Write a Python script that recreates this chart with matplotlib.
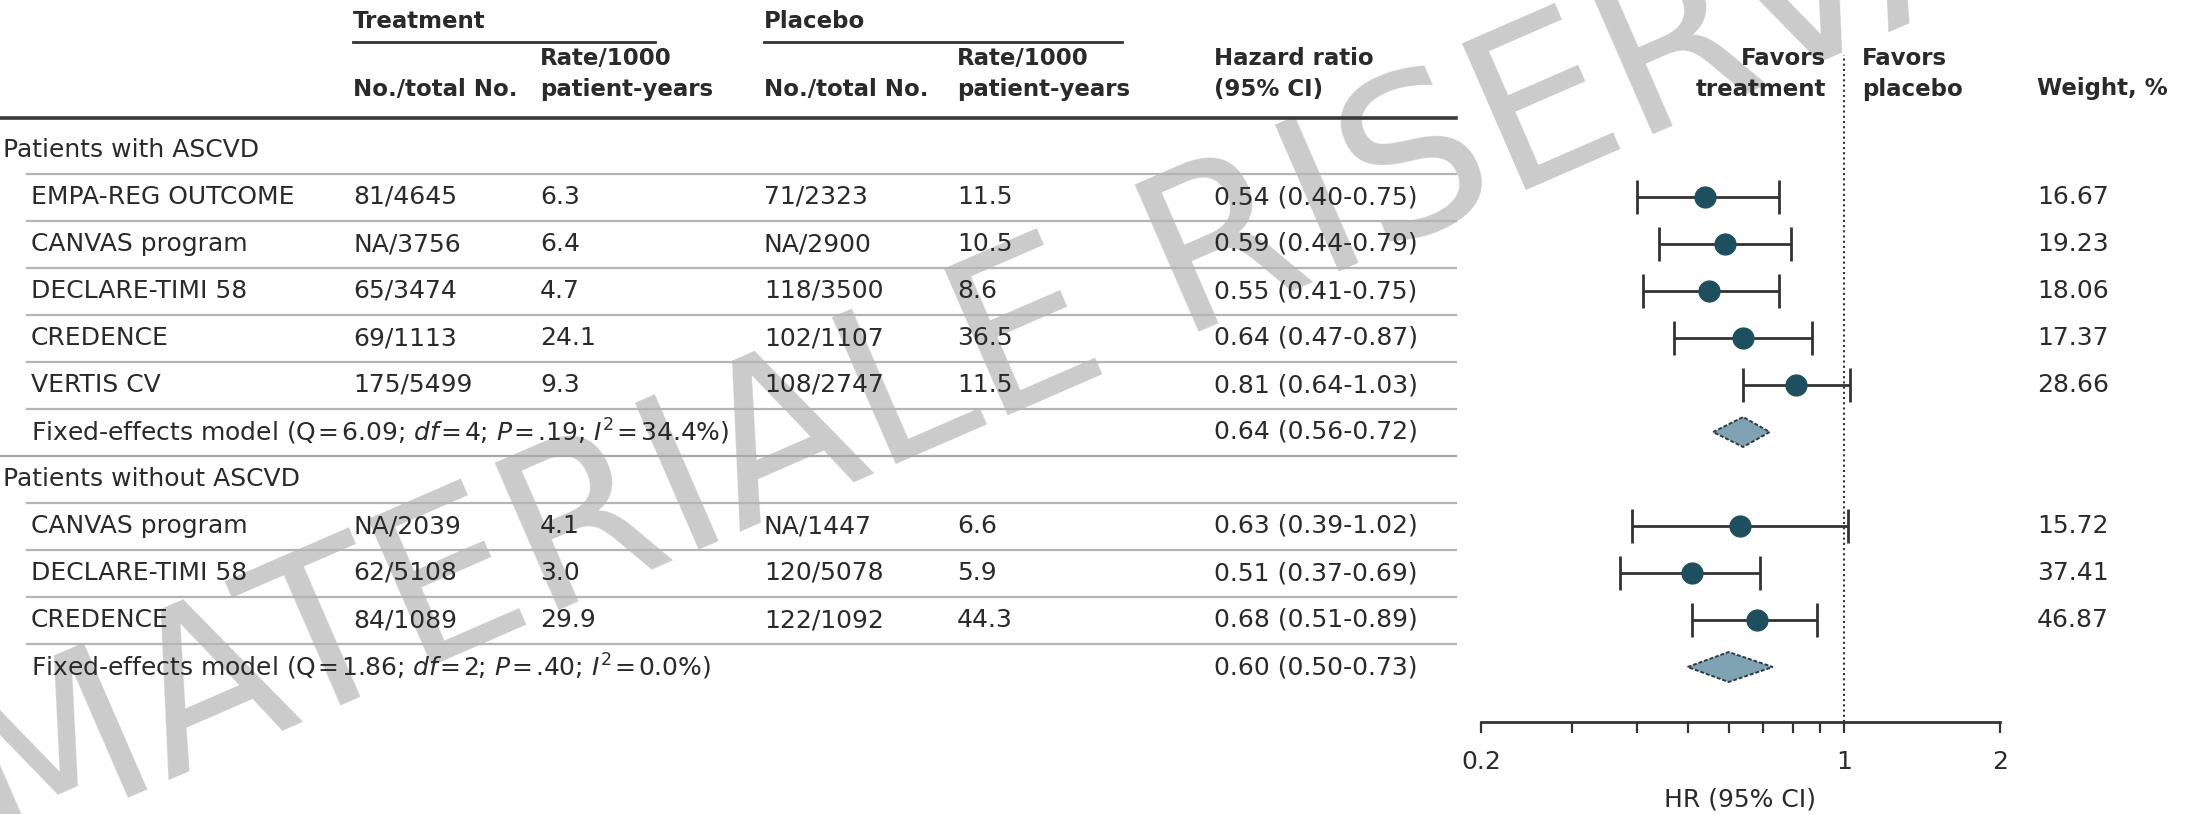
import numpy as np
import matplotlib.pyplot as plt
from matplotlib.patches import Polygon
from matplotlib.ticker import NullFormatter

plt.rcParams['font.family'] = 'DejaVu Sans'
plt.rcParams['mathtext.fontset'] = 'dejavusans'

# patients with ASCVD
ascvd_names = ['EMPA-REG OUTCOME', 'CANVAS program', 'DECLARE-TIMI 58', 'CREDENCE', 'VERTIS CV']
ascvd_treat_n = ['81/4645', 'NA/3756', '65/3474', '69/1113', '175/5499']
ascvd_treat_rate = ['6.3', '6.4', '4.7', '24.1', '9.3']
ascvd_plac_n = ['71/2323', 'NA/2900', '118/3500', '102/1107', '108/2747']
ascvd_plac_rate = ['11.5', '10.5', '8.6', '36.5', '11.5']
ascvd_hr = [0.54, 0.59, 0.55, 0.64, 0.81]
ascvd_lo = [0.40, 0.44, 0.41, 0.47, 0.64]
ascvd_hi = [0.75, 0.79, 0.75, 0.87, 1.03]
ascvd_weight = [16.67, 19.23, 18.06, 17.37, 28.66]
ascvd_pooled = (0.64, 0.56, 0.72)
ascvd_stats = ('6.09', '4', '.19', '34.4')

# patients without ASCVD
noascvd_names = ['CANVAS program', 'DECLARE-TIMI 58', 'CREDENCE']
noascvd_treat_n = ['NA/2039', '62/5108', '84/1089']
noascvd_treat_rate = ['4.1', '3.0', '29.9']
noascvd_plac_n = ['NA/1447', '120/5078', '122/1092']
noascvd_plac_rate = ['6.6', '5.9', '44.3']
noascvd_hr = [0.63, 0.51, 0.68]
noascvd_lo = [0.39, 0.37, 0.51]
noascvd_hi = [1.02, 0.69, 0.89]
noascvd_weight = [15.72, 37.41, 46.87]
noascvd_pooled = (0.60, 0.50, 0.73)
noascvd_stats = ('1.86', '2', '.40', '0.0')

groups = [
    ('Patients with ASCVD', ascvd_names, ascvd_treat_n, ascvd_treat_rate, ascvd_plac_n,
     ascvd_plac_rate, ascvd_hr, ascvd_lo, ascvd_hi, ascvd_weight, ascvd_pooled, ascvd_stats),
    ('Patients without ASCVD', noascvd_names, noascvd_treat_n, noascvd_treat_rate, noascvd_plac_n,
     noascvd_plac_rate, noascvd_hr, noascvd_lo, noascvd_hi, noascvd_weight, noascvd_pooled, noascvd_stats),
]

W, H = 2185, 814
TXT = '#2a2a2a'
DOT = '#1e4f5e'
DIAMOND = '#7fa3b3'
FS = 18
FS_HEAD = 16.5

# column positions (pixels)
x_group, x_name = 3, 31
x_tn, x_tr, x_pn, x_pr, x_hr, x_w = 353, 540, 764, 957, 1214, 2037
line_start, line_end = 27, 1456
row0, step = 150, 47
axis_y = 722
fx0, fx1 = 1481, 2000

fig = plt.figure(figsize=(W / 100, H / 100), dpi=100)
ax = fig.add_axes([0, 0, 1, 1])
ax.set_xlim(0, W)
ax.set_ylim(H, 0)
ax.axis('off')

fax = fig.add_axes([fx0 / W, (H - axis_y) / H, (fx1 - fx0) / W, axis_y / H])
fax.set_xscale('log')
fax.set_xlim(0.2, 2)
fax.set_ylim(axis_y, 0)
fax.patch.set_alpha(0)

# watermark
ax.text(-6, 856, 'MATERIALE RISERVATO', rotation=23.5, rotation_mode='anchor',
        ha='left', va='baseline', fontsize=158, color='#cbcbcb', zorder=0.5)

def txt(x, y, s, **kw):
    kw.setdefault('fontsize', FS)
    kw.setdefault('color', TXT)
    ax.text(x, y, s, va='center', **kw)

def head(x, y, s, **kw):
    txt(x, y, s, fontsize=FS_HEAD, fontweight='bold', linespacing=1.45, **kw)

# header
for x, x_end, label in [(x_tn, 655, 'Treatment'), (x_pn, 1122, 'Placebo')]:
    head(x, 22, label)
    ax.plot([x, x_end], [42, 42], color='#333333', lw=2)
for x in (x_tn, x_pn):
    head(x, 89, 'No./total No.')
for x in (x_tr, x_pr):
    head(x, 74, 'Rate/1000\npatient-years')
head(x_hr, 74, 'Hazard ratio\n(95% CI)')
head(1826, 74, 'Favors\ntreatment', ha='right', multialignment='right')
head(1862, 74, 'Favors\nplacebo')
head(x_w, 89, 'Weight, %')
ax.plot([0, line_end], [118, 118], color='#3a3a3a', lw=2.6)

row = 0
for gi, (title, names, tn, tr, pn, pr, hr, lo, hi, wt, pooled, stats) in enumerate(groups):
    if gi > 0:
        ax.plot([0, line_end], [row0 + step * (row - 0.5)] * 2, color='#a8a8a8', lw=1.6)
    txt(x_group, row0 + step * row, title)
    row += 1
    ys = []
    for i in range(len(names)):
        y = row0 + step * row
        ys.append(y)
        ax.plot([line_start, line_end], [y - step / 2] * 2, color='#b4b4b4', lw=1.6)
        txt(x_name, y, names[i])
        txt(x_tn, y, tn[i])
        txt(x_tr, y, tr[i])
        txt(x_pn, y, pn[i])
        txt(x_pr, y, pr[i])
        txt(x_hr, y, f'{hr[i]:.2f} ({lo[i]:.2f}-{hi[i]:.2f})')
        txt(x_w, y, f'{wt[i]:.2f}')
        row += 1
    hr = np.array(hr)
    fax.errorbar(hr, ys, xerr=[hr - np.array(lo), np.array(hi) - hr], fmt='o', ms=15,
                 mfc=DOT, mec=DOT, ecolor='#333333', elinewidth=2, capsize=12, capthick=2,
                 zorder=3)

    # pooled estimate
    y = row0 + step * row
    ax.plot([line_start, line_end], [y - step / 2] * 2, color='#b4b4b4', lw=1.6)
    q, df, p, i2 = stats
    eq = '\u200a=\u200a'
    label = (f'Fixed-effects model (Q{eq}{q}; $\\mathit{{df}}${eq}{df}; '
             f'$\\mathit{{P}}${eq}{p}; $\\mathit{{I}}^2${eq}{i2}%)')
    txt(x_name, y, label)
    est, plo, phi = pooled
    txt(x_hr, y, f'{est:.2f} ({plo:.2f}-{phi:.2f})')
    fax.add_patch(Polygon([[plo, y], [est, y - 15], [phi, y], [est, y + 15]], closed=True,
                          facecolor=DIAMOND, edgecolor='#2e3c42', lw=1.4, ls=(0, (2, 1)),
                          zorder=3))
    row += 1

# null line and axis
fax.axvline(1, ymin=0, ymax=(axis_y - 55) / axis_y, color='#333333', lw=1.5, ls=(0, (1, 1.5)))
for side in ('left', 'right', 'top'):
    fax.spines[side].set_visible(False)
fax.spines['bottom'].set_linewidth(2)
fax.spines['bottom'].set_color('#333333')
fax.set_yticks([])
fax.set_xticks([0.2, 1, 2])
fax.set_xticklabels(['0.2', '1', '2'])
fax.set_xticks([0.3, 0.4, 0.5, 0.6, 0.7, 0.8, 0.9], minor=True)
fax.xaxis.set_minor_formatter(NullFormatter())
fax.tick_params(axis='x', which='both', direction='out', length=8, width=1.6,
                color='#333333', labelsize=FS, labelcolor=TXT, pad=12)
fax.set_xlabel('HR (95% CI)', fontsize=FS, color=TXT, labelpad=10)

fig.savefig('out.png', dpi=100)
